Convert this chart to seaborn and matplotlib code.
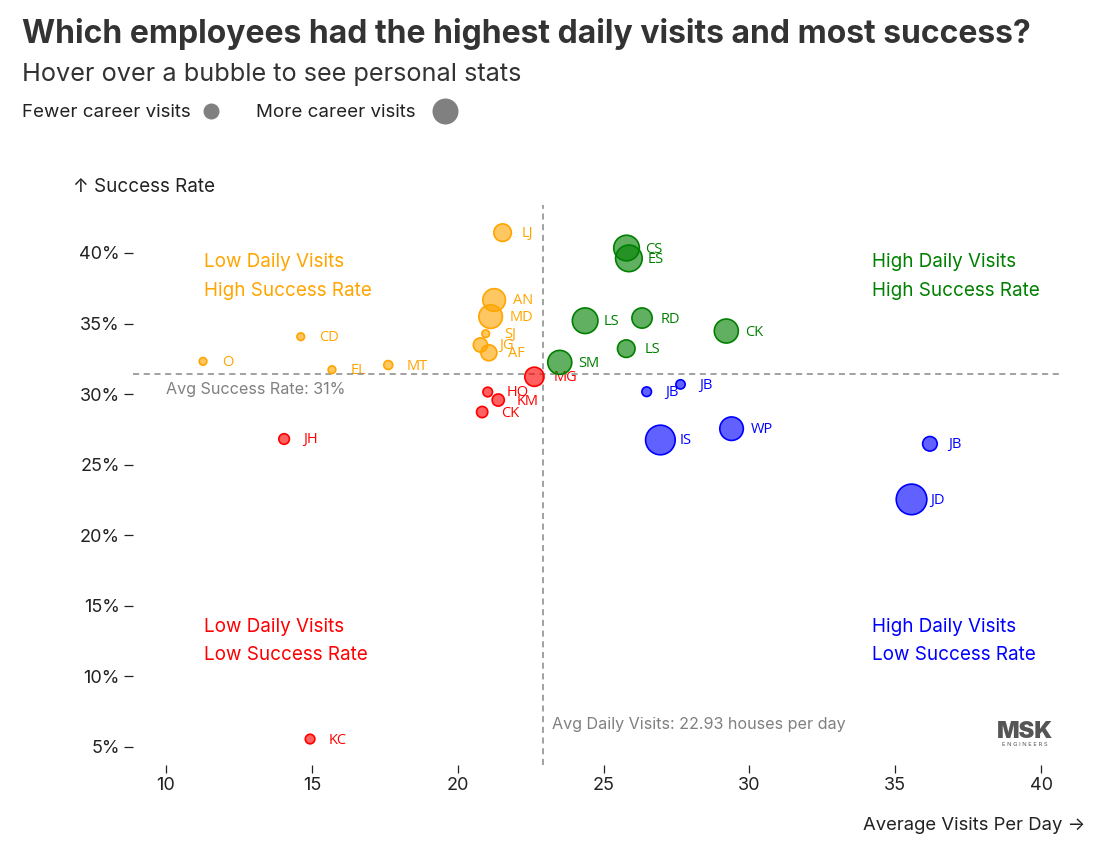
import numpy as np
import pandas as pd
import matplotlib
matplotlib.use("Agg")
import matplotlib.pyplot as plt
import seaborn as sns
from matplotlib.ticker import FuncFormatter

# ---------------- data ----------------
names = ["LJ", "AN", "MD", "SJ", "JG", "AF", "CD", "O", "EL", "MT",
         "MG", "HO", "KM", "CK", "JH", "KC",
         "CS", "ES", "LS", "RD", "LS", "CK", "SM",
         "JB", "JB", "IS", "WP", "JB", "JD"]
avg_visits = [21.54, 21.25, 21.13, 20.96, 20.78, 21.07, 14.62, 11.27, 15.69, 17.62,
              22.63, 21.03, 21.39, 20.84, 14.05, 14.94,
              25.79, 25.87, 24.37, 26.32, 25.78, 29.21, 23.50,
              26.48, 27.64, 26.95, 29.39, 36.19, 35.56]
success_rate = [41.44, 36.67, 35.49, 34.28, 33.48, 32.93, 34.07, 32.32, 31.73, 32.06,
                31.23, 30.15, 29.58, 28.73, 26.82, 5.56,
                40.35, 39.62, 35.20, 35.39, 33.22, 34.47, 32.25,
                30.17, 30.69, 26.75, 27.55, 26.48, 22.54]
career_visits = [770, 1280, 1390, 145, 505, 640, 145, 145, 145, 200,
                 920, 230, 370, 315, 280, 230,
                 1640, 1770, 1640, 1020, 770, 1440, 1440,
                 230, 215, 2190, 1380, 530, 2340]
avg_daily_visits = 22.93
avg_success = 31.42

quad_colors = {"LH": "#FFA500", "LL": "#FF0000", "HH": "#008000", "HL": "#0000FF"}

df = pd.DataFrame({"name": names, "visits": avg_visits,
                   "success": success_rate, "career": career_visits})
df["quad"] = np.where(df["visits"] >= avg_daily_visits, "H", "L")
df["quad"] = df["quad"] + np.where(df["success"] >= avg_success, "H", "L")

# ---------------- figure ----------------
sns.set_theme(style="white")
plt.rcParams["font.family"] = ["Inter", "DejaVu Sans"]
W, H = 1110, 856
fig = plt.figure(figsize=(W / 100, H / 100), dpi=100)
fig.patch.set_facecolor("white")

L, R, T, B = 133, 1060, 205, 765
ax = fig.add_axes([L / W, 1 - B / H, (R - L) / W, (B - T) / H])

px2pt = 0.72
def r2s(r):
    return (2 * r * px2pt) ** 2

vmax = 2600
sns.scatterplot(data=df, x="visits", y="success", hue="quad", palette=quad_colors,
                size="career", sizes=(0, 0.20736 * vmax), size_norm=(0, vmax),
                legend=False, linewidth=1.2, ax=ax, zorder=3)
coll = ax.collections[0]
fc = np.array(coll.get_facecolors())
ec = fc.copy()
fc[:, 3] = 0.62
coll.set_facecolors(fc)
coll.set_edgecolors(ec)

ax.axhline(avg_success, color="#888888", lw=1.1, ls=(0, (4, 3)), zorder=2)
ax.axvline(avg_daily_visits, color="#888888", lw=1.1, ls=(0, (4, 3)), zorder=2)

for _, row in df.iterrows():
    ax.annotate(row["name"], (row["visits"], row["success"]), xytext=(13.5, -0.7),
                textcoords="offset points", va="center", ha="left",
                fontsize=10.5, color=quad_colors[row["quad"]],
                family=["Open Sans", "DejaVu Sans"], zorder=1)

ax.set_xlim(8.869, 40.65)
ax.set_ylim(3.72, 43.40)
ax.set_xticks([10, 15, 20, 25, 30, 35, 40])
ax.set_yticks([5, 10, 15, 20, 25, 30, 35, 40])
ax.yaxis.set_major_formatter(FuncFormatter(lambda v, p: f"{v:.0f}%"))
for s in ax.spines.values():
    s.set_visible(False)
ax.tick_params(axis="x", bottom=True, length=5.5, width=0.9, color="#222222",
               labelsize=13, labelcolor="#222222", pad=3, direction="out")
ax.tick_params(axis="y", left=True, length=6.5, width=0.9, color="#222222",
               labelsize=13, labelcolor="#222222", pad=3, direction="out")
ax.set_xlabel("")
ax.set_ylabel("")
ax.grid(False)

# overlay in pixel coords (on top, transparent)
ov = fig.add_axes([0, 0, 1, 1], zorder=5)
ov.set_xlim(0, W)
ov.set_ylim(H, 0)
ov.axis("off")

qfs = 13.6
quad_texts = [
    (204, 262, "Low Daily Visits", "LH"), (204, 291, "High Success Rate", "LH"),
    (872, 262, "High Daily Visits", "HH"), (872, 291, "High Success Rate", "HH"),
    (204, 627, "Low Daily Visits", "LL"), (204, 655, "Low Success Rate", "LL"),
    (872, 627, "High Daily Visits", "HL"), (872, 655, "Low Success Rate", "HL"),
]
for x, y, t, q in quad_texts:
    ov.text(x, y, t, fontsize=qfs, color=quad_colors[q], va="center", ha="left")

ov.text(22, 33.5, "Which employees had the highest daily visits and most success?",
        fontsize=23, fontweight="bold", color="#333333", va="center", ha="left")
ov.text(22, 74.5, "Hover over a bubble to see personal stats",
        fontsize=18.2, color="#333333", va="center", ha="left")
ov.text(22, 112, "Fewer career visits", fontsize=13.5, color="#222222", va="center")
ov.scatter([211], [111], s=r2s(8), color="#808080", lw=0)
ov.text(256, 112, "More career visits", fontsize=13.5, color="#222222", va="center")
ov.scatter([445], [111], s=r2s(13), color="#808080", lw=0)

ov.text(73, 186.5, "↑ Success Rate", fontsize=13.6, color="#222222", va="center")
ov.text(1085, 825.5, "Average Visits Per Day →", fontsize=13.3, color="#222222",
        va="center", ha="right")
ov.text(166, 389, "Avg Success Rate: 31%", fontsize=11.6, color="#808080", va="center")
ov.text(552, 725, f"Avg Daily Visits: {avg_daily_visits} houses per day",
        fontsize=11.6, color="#808080", va="center")

# logo
ov.text(1025, 732, "MSK", fontsize=17, fontweight="black", color="#555555",
        va="center", ha="center")
ov.text(1025, 745, "E N G I N E E R S", fontsize=4.2, color="#555555",
        va="center", ha="center")

fig.savefig("out.png", dpi=100, facecolor="white")
